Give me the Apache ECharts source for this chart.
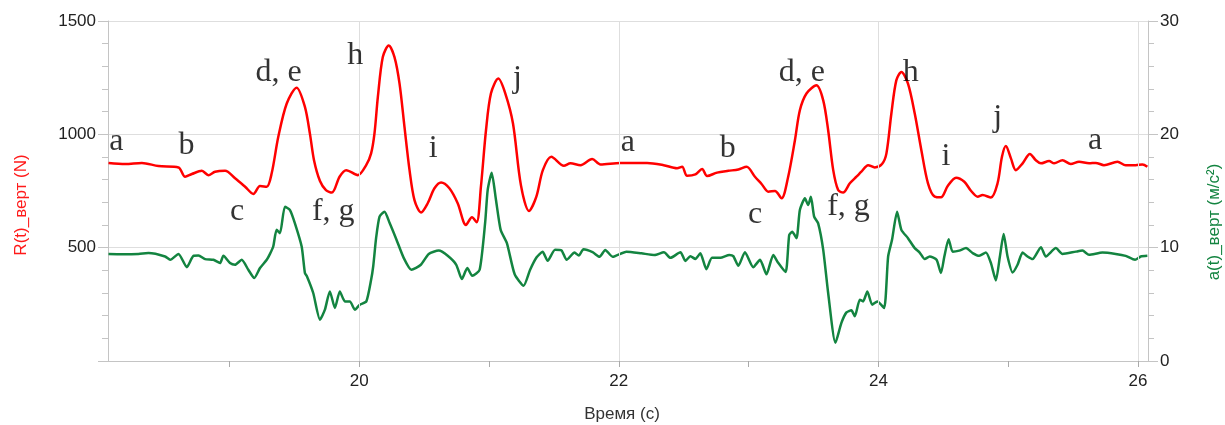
<!DOCTYPE html>
<html>
<head>
<meta charset="utf-8">
<title>R(t) и a(t)</title>
<script src="https://cdn.jsdelivr.net/npm/echarts@6/dist/echarts.min.js"></script>
<style>
  html, body { margin: 0; padding: 0; background: #fff; }
  #main { width: 1225px; height: 425px; }
</style>
</head>
<body>
<div id="main"></div>
<script>
// время (с) и сила R(t)_верт (N)
var redTime = [18.069,18.198,18.326,18.454,18.608,18.659,18.711,18.788,18.838,18.890,18.967,19.044,19.121,19.185,19.236,19.288,19.326,19.377,19.442,19.518,
  19.582,19.621,19.652,19.698,19.744,19.790,19.849,19.900,19.990,20.054,20.092,20.118,20.144,20.182,20.228,20.272,20.311,20.349,20.388,20.426,
  20.477,20.528,20.580,20.631,20.695,20.759,20.823,20.869,20.905,20.938,20.977,21.015,21.072,21.126,21.185,21.246,21.308,21.365,21.415,21.480,
  21.577,21.628,21.705,21.795,21.859,22.013,22.218,22.346,22.449,22.488,22.526,22.590,22.642,22.680,22.757,22.844,22.921,22.985,23.049,23.100,
  23.152,23.203,23.254,23.305,23.357,23.395,23.446,23.523,23.575,23.613,23.652,23.690,23.728,23.780,23.831,23.869,23.921,23.972,24.028,24.062,
  24.100,24.138,24.177,24.228,24.280,24.331,24.382,24.434,24.482,24.534,24.598,24.662,24.713,24.765,24.803,24.867,24.918,24.952,24.982,25.021,
  25.059,25.111,25.167,25.213,25.252,25.315,25.354,25.418,25.482,25.546,25.623,25.675,25.738,25.842,25.905,25.982,26.034,26.072];
var redForce = [874,869,874,860,854,813,825,839,820,835,839,806,769,737,772,769,828,989,1136,1206,
  1121,1001,886,794,754,743,813,842,820,864,916,1004,1165,1341,1392,1341,1224,1033,842,710,
  655,696,762,788,762,696,600,634,612,769,1018,1180,1246,1180,1048,776,662,725,842,901,
  861,872,864,891,867,874,874,864,850,857,817,823,847,816,831,839,845,857,813,781,
  747,750,718,813,974,1106,1180,1216,1150,1018,842,754,743,784,813,835,864,854,869,916,
  1092,1238,1275,1224,1092,930,784,725,722,772,809,791,751,725,732,721,784,901,948,894,
  842,872,913,886,872,882,872,886,869,879,872,874,864,879,864,864,867,857];

// время (с) и ускорение a(t)_верт (м/с²)
var greenTime = [18.069,18.172,18.300,18.377,18.505,18.544,18.608,18.672,18.723,18.762,18.813,18.877,18.928,18.954,19.005,19.044,19.095,19.146,19.192,19.236,
  19.288,19.313,19.338,19.364,19.390,19.428,19.467,19.505,19.557,19.582,19.598,19.646,19.698,19.736,19.774,19.813,19.851,19.890,19.928,19.967,
  20.005,20.055,20.092,20.108,20.131,20.157,20.195,20.234,20.286,20.343,20.402,20.475,20.536,20.613,20.682,20.748,20.791,20.833,20.871,20.928,
  20.971,20.990,21.021,21.054,21.090,21.138,21.198,21.267,21.317,21.367,21.413,21.452,21.509,21.559,21.598,21.659,21.692,21.728,21.798,21.852,
  21.896,21.952,22.059,22.175,22.275,22.348,22.398,22.475,22.513,22.552,22.590,22.628,22.675,22.718,22.782,22.852,22.882,22.921,22.972,23.036,
  23.088,23.138,23.190,23.228,23.285,23.313,23.336,23.369,23.395,23.434,23.459,23.480,23.505,23.536,23.575,23.613,23.669,23.715,23.754,23.792,
  23.818,23.857,23.882,23.915,23.952,23.992,24.044,24.075,24.105,24.144,24.177,24.228,24.280,24.318,24.357,24.395,24.448,24.482,24.508,24.541,
  24.572,24.623,24.675,24.726,24.777,24.828,24.867,24.905,24.936,24.965,24.995,25.034,25.072,25.111,25.149,25.188,25.252,25.290,25.367,25.418,
  25.521,25.572,25.623,25.726,25.828,25.905,25.977,26.021,26.072];
var greenAcc = [9.45,9.43,9.45,9.52,9.22,8.93,9.45,8.28,9.28,9.31,8.99,8.93,8.64,9.28,8.64,8.49,8.93,8.05,7.32,8.20,
  8.93,9.45,10.10,11.57,11.28,13.61,13.32,12.15,10.10,7.76,7.46,6.00,3.65,4.53,6.14,4.68,6.14,5.26,5.26,4.53,
  4.97,5.26,7.17,8.34,10.90,12.74,13.17,12.20,10.75,9.10,8.05,8.49,9.45,9.74,9.28,8.49,7.23,8.20,7.52,8.05,
  12.27,15.08,16.61,14.20,11.57,10.40,7.65,6.64,8.05,9.15,9.63,8.84,9.81,9.75,8.93,9.57,9.30,9.85,9.60,9.20,
  9.80,9.20,9.65,9.50,9.35,9.60,9.10,9.60,8.83,9.25,9.00,9.50,8.10,9.10,9.10,9.35,9.25,8.40,9.60,8.28,
  8.93,7.65,9.35,8.66,7.85,11.13,11.40,10.84,13.32,14.35,13.76,14.49,12.74,12.15,9.81,6.00,1.60,3.36,4.29,4.47,
  3.94,5.41,5.26,6.14,4.97,5.26,4.68,9.22,10.69,13.17,11.57,10.84,9.96,9.57,8.99,9.22,8.93,7.76,9.22,10.75,
  9.65,9.74,9.96,9.52,9.28,9.57,8.64,7.11,9.22,11.21,9.22,7.81,8.49,9.57,9.22,8.99,10.04,9.22,9.96,9.45,
  9.65,9.74,9.37,9.57,9.45,9.28,8.93,9.22,9.28];

// буквы фаз движения: время, уровень по оси R, текст
var phaseTime  = [18.13,18.67,19.06,19.38,19.80,19.97,20.57,21.22,22.07,22.84,23.05,23.41,23.77,24.25,24.52,24.92,25.67];
var phaseLevel = [967,952,660,1274,660,1349,939,1245,963,939,646,1274,682,1274,900,1073,972];
var phaseText  = ['a','b','c','d, e','f, g','h','i','j','a','b','c','d, e','f, g','h','i','j','a'];

var xTicks = [19,20,21,22,23,24,25,26];
var xLabels = [20,22,24,26];
var xGridLines = [20,22,24,26];

function zip(a, b){
  var out = [];
  for(var i = 0; i < a.length; i++){
    out.push([a[i], b[i]]);
  }
  return out;
}

var phaseData = [];
for(var k = 0; k < phaseTime.length; k++){
  phaseData.push({value:[phaseTime[k], phaseLevel[k]], name:phaseText[k]});
}

var gridLineData = [];
for(var g = 0; g < xGridLines.length; g++){
  gridLineData.push({xAxis:xGridLines[g]});
}

var axisGrey = '#c4c4c4';
var gridGrey = '#dedede';
var plainNum = function(v){ return String(v); };
var labelFont = {fontFamily:'Liberation Sans, Arial, sans-serif', fontSize:17, color:'#222', formatter:plainNum};
var X_MIN = 18.065, X_MAX = 26.077;

var myChart = echarts.init(document.getElementById('main'), null, {renderer:'canvas'});

var option = {
  animation: false,
  backgroundColor: '#fff',
  grid: {left:108, right:77, top:21, bottom:64, containLabel:false},
  xAxis: {
    type:'value', min:X_MIN, max:X_MAX, position:'bottom',
    axisLine:{show:true, onZero:false, lineStyle:{color:axisGrey, width:1}},
    axisTick:{show:true, inside:false, length:6, customValues:xTicks, lineStyle:{color:'#aaa'}},
    axisLabel:Object.assign({customValues:xLabels, margin:12}, labelFont),
    splitLine:{show:false}
  },
  yAxis: [
    {
      type:'value', min:0, max:1500, interval:500, position:'left',
      axisLine:{show:true, onZero:false, lineStyle:{color:axisGrey}},
      axisTick:{show:true, inside:false, length:10, lineStyle:{color:axisGrey}},
      minorTick:{show:true, splitNumber:5, length:6, lineStyle:{color:axisGrey}},
      axisLabel:Object.assign({showMinLabel:false, margin:12}, labelFont),
      splitLine:{show:true, lineStyle:{color:gridGrey}}
    },
    {
      type:'value', min:0, max:30, interval:10, position:'right',
      axisLine:{show:true, onZero:false, lineStyle:{color:axisGrey}},
      axisTick:{show:true, inside:false, length:10, lineStyle:{color:axisGrey}},
      minorTick:{show:true, splitNumber:5, length:6, lineStyle:{color:axisGrey}},
      axisLabel:Object.assign({margin:12}, labelFont),
      splitLine:{show:false}
    }
  ],
  series: [
    {
      //竖向网格线
      name:'grid', type:'line', data:[], z:1, silent:true,
      markLine:{
        silent:true, symbol:['none','none'], label:{show:false},
        lineStyle:{color:gridGrey, type:'solid', width:1},
        data:gridLineData
      }
    },
    {
      name:'R(t)_верт', type:'line', yAxisIndex:0,
      data:zip(redTime, redForce), showSymbol:false, smooth:0.3, z:3,
      lineStyle:{color:'#ff0000', width:2.5}
    },
    {
      name:'a(t)_верт', type:'line', yAxisIndex:1,
      data:zip(greenTime, greenAcc), showSymbol:false, smooth:0.2, z:2,
      lineStyle:{color:'#138440', width:2.5}
    },
    {
      name:'фазы', type:'scatter', yAxisIndex:0,
      data:phaseData, symbolSize:1, z:5,
      itemStyle:{color:'transparent'},
      label:{
        show:true, position:'inside', formatter:'{b}',
        fontFamily:'Liberation Serif, Times New Roman, serif', fontSize:32, color:'#000',
        align:'center', verticalAlign:'middle'
      }
    }
  ],
  graphic: [
    {type:'text', x:21.5, y:205, rotation:Math.PI/2,
      style:{text:'R(t)_верт (N)', fill:'#ff1a1a', font:'17px Liberation Sans, Arial, sans-serif', align:'center', verticalAlign:'middle'}},
    {type:'text', x:1214, y:222, rotation:Math.PI/2,
      style:{text:'a(t)_верт (м/с²)', fill:'#138440', font:'17px Liberation Sans, Arial, sans-serif', align:'center', verticalAlign:'middle'}},
    {type:'text', x:622, y:414,
      style:{text:'Время (с)', fill:'#333', font:'17px Liberation Sans, Arial, sans-serif', align:'center', verticalAlign:'middle'}}
  ]
};

myChart.setOption(option);
</script>
</body>
</html>
